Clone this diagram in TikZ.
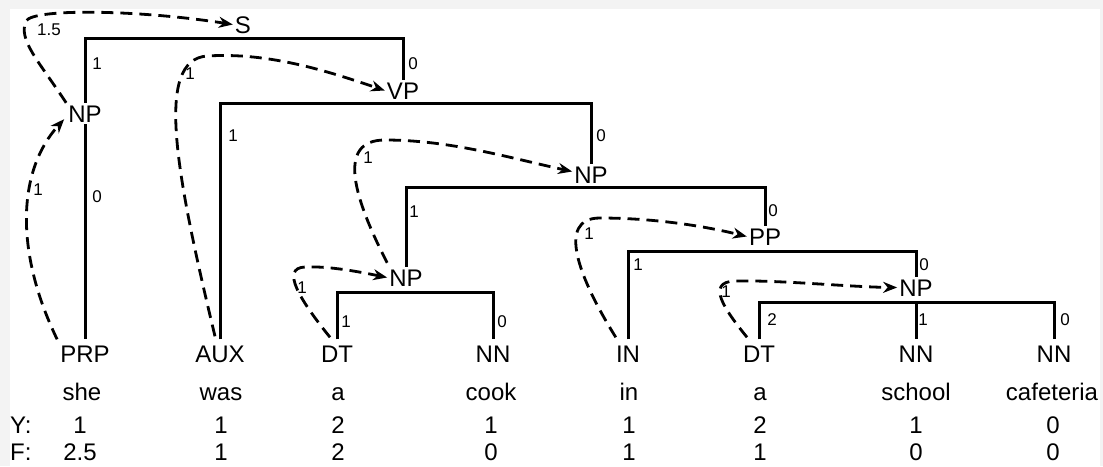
\documentclass[tikz,border=0pt]{standalone}
\usepackage{fontspec}
\setmainfont{Liberation Sans}
\usetikzlibrary{arrows.meta}
\definecolor{pagegray}{RGB}{243,243,243}

\begin{document}
\begin{tikzpicture}[x=1pt,y=-1pt,
  lab/.style={font=\fontsize{24}{28}\selectfont, inner xsep=2pt, inner ysep=2pt,
              anchor=base, text height=17pt, text depth=0pt},
  tag/.style={lab, inner ysep=5.5pt},
  word/.style={font=\fontsize{24}{28}\selectfont, inner sep=0pt, anchor=base},
  wt/.style={font=\fontsize{17}{20}\selectfont, inner sep=0pt},
  branch/.style={line width=3pt},
  link/.style={line width=2.8pt, dash pattern=on 12pt off 7pt,
               -{Stealth[length=14pt,width=11pt,inset=4.5pt]}},
]
% page
\fill[pagegray] (0,0) rectangle (1103,466);
\fill[white] (10,9) rectangle (1100,466);
\useasboundingbox (0,0) rectangle (1103,466);

% phrase nodes
\node[lab] (s)   at (243,33)  {S};
\node[lab] (np1) at (85,122)  {NP};
\node[lab] (vp)  at (403,99)  {VP};
\node[lab] (np2) at (591,183) {NP};
\node[lab] (np3) at (406,286) {NP};
\node[lab] (pp)  at (765,245) {PP};
\node[lab] (np4) at (916,296) {NP};

% part-of-speech tags
\node[tag] (prp) at (85,362)   {PRP};
\node[tag] (aux) at (220,362)  {AUX};
\node[tag] (dt1) at (337,362)  {DT};
\node[tag] (nn1) at (493,362)  {NN};
\node[tag] (inp) at (628,362)  {IN};
\node[tag] (dt2) at (759,362)  {DT};
\node[tag] (nn2) at (916,362)  {NN};
\node[tag] (nn3) at (1054,362) {NN};

% words
\node[word] (w1) at (82,400)   {she};
\node[word] (w2) at (221,400)  {was};
\node[word] (w3) at (338,400)  {a};
\node[word] (w4) at (491,400)  {cook};
\node[word] (w5) at (629,400)  {in};
\node[word] (w6) at (760,400)  {a};
\node[word] (w7) at (916,400)  {school};
\node[word] (w8) at (1052,400) {cafeteria};

% Y and F rows
\node[word, anchor=base west] (ylab) at (10,433) {Y:};
\node[word, anchor=base west] (flab) at (10,460) {F:};
\foreach \x/\v [count=\i] in {80/1,221/1,338/2,491/1,629/1,760/2,916/1,1053/0}
  \node[word] (y\i) at (\x,433) {\v};
\foreach \x/\v [count=\i] in {80/2.5,221/1,338/2,491/0,629/1,760/1,916/0,1053/0}
  \node[word] (f\i) at (\x,460) {\v};

% bar heights
\coordinate (sbar)   at (0,38);
\coordinate (vpbar)  at (0,103);
\coordinate (np2bar) at (0,187);
\coordinate (ppbar)  at (0,251);
\coordinate (np3bar) at (0,292);
\coordinate (np4bar) at (0,302);

% tree branches
\draw[branch] (np1.north) -- (np1.north |- sbar) -| (vp.north);
\draw[branch] (np1.south) -- (prp.north);
\draw[branch] (aux.north) -- (aux.north |- vpbar) -| (np2.north);
\draw[branch] (np3.north) -- (np3.north |- np2bar) -| (pp.north);
\draw[branch] (inp.north) -- (inp.north |- ppbar) -| (np4.north);
\draw[branch] (dt1.north) -- (dt1.north |- np3bar) -| (nn1.north);
\draw[branch] (dt2.north) -- (dt2.north |- np4bar) -| (nn3.north);
\draw[branch] (nn2.north |- np4bar) -- (nn2.north);

% head links
\draw[link] ([shift={(-1,0)}]prp.north west) .. controls (14,250) and (18,170) .. ([shift={(-2,-5)}]np1.south west);
\draw[link] (np1.north west) .. controls (38,60) and (18,40) .. (26,21)
            .. controls (34,8) and (140,10) .. (s.west);
\draw[link] ([shift={(-5,-3)}]aux.north) .. controls (175,170) and (155,60) .. (207,56)
            .. controls (270,52) and (330,72) .. (vp.west);
\draw[link] ([shift={(0,-4)}]np3.north west) .. controls (355,200) and (335,140) .. (385,140)
            .. controls (450,140) and (510,158) .. ([shift={(0,-3)}]np2.west);
\draw[link] ([shift={(2,-2)}]inp.north west) .. controls (580,280) and (555,218) .. (600,218)
            .. controls (650,218) and (700,225) .. (pp.west);
\draw[link] ([shift={(-7,-2)}]dt1.north) .. controls (300,300) and (280,268) .. (305,267)
            .. controls (330,266) and (360,272) .. (np3.west);
\draw[link] ([shift={(-12,-2)}]dt2.north) .. controls (725,310) and (705,282) .. (735,281)
            .. controls (780,280) and (850,287) .. (np4.west);

% branch and link weights
\node[wt] (a1)  at (97,64)   {1};
\node[wt] (a2)  at (413,64)  {0};
\node[wt] (a3)  at (97,197)  {0};
\node[wt] (a4)  at (38,190)  {1};
\node[wt] (a5)  at (49,30)   {1.5};
\node[wt] (a6)  at (190,74)  {1};
\node[wt] (a7)  at (233,136) {1};
\node[wt] (a8)  at (601,136) {0};
\node[wt] (a9)  at (368,158) {1};
\node[wt] (a10) at (414,212) {1};
\node[wt] (a11) at (773,211) {0};
\node[wt] (a12) at (589,234) {1};
\node[wt] (a13) at (638,265) {1};
\node[wt] (a14) at (924,265) {0};
\node[wt] (a15) at (302,288) {1};
\node[wt] (a16) at (346,322) {1};
\node[wt] (a17) at (502,322) {0};
\node[wt] (a18) at (726,292) {1};
\node[wt] (a19) at (772,320) {2};
\node[wt] (a20) at (923,320) {1};
\node[wt] (a21) at (1065,320) {0};
\end{tikzpicture}
\end{document}
